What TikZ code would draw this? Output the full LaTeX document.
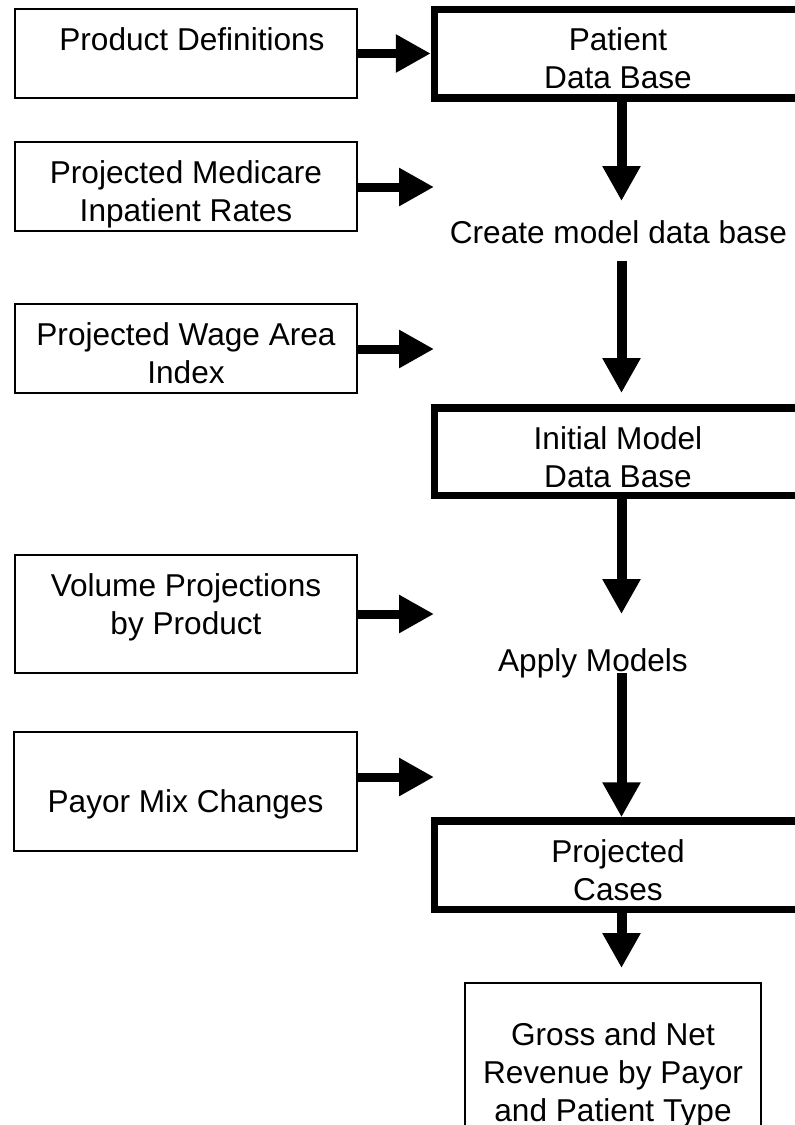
\documentclass[tikz,border=0pt]{standalone}
\usepackage{fontspec}
\setmainfont{Liberation Sans}
\usetikzlibrary{arrows.meta}
\begin{document}
\begin{tikzpicture}[x=1pt,y=-1pt,
  txt/.style={font=\fontsize{31.6}{38}\selectfont},
  inbox/.style={draw, line width=1.5pt, rectangle, inner sep=0pt, align=center, txt, anchor=base},
  keybox/.style={draw, line width=7.5pt, rectangle, inner sep=0pt, align=center, txt, anchor=base, minimum width=367pt},
  flow/.style={line width=10pt, -{Triangle[length=35pt,width=36pt]}},
  feed/.style={line width=9pt, -{Triangle[length=35pt,width=36pt]}}]
\useasboundingbox (0,0) rectangle (795,1125);
\clip (0,0) rectangle (795,1125);

% input boxes (left column); anchor=base is the baseline of the last line
\node[inbox, minimum width=342pt, text height=41pt, text depth=48pt] (pd) at (186,50) {\hspace*{12pt}Product Definitions};
\node[inbox, minimum width=342pt, text height=79pt, text depth=10pt] (med) at (186,221) {Projected Medicare\\Inpatient Rates};
\node[inbox, minimum width=342pt, text height=79pt, text depth=10pt] (wage) at (186,383) {Projected Wage Area\\Index};
\node[inbox, minimum width=342pt, text height=79pt, text depth=39pt] (vol) at (186,634) {Volume Projections\\by Product};
\node[inbox, minimum width=343pt, text height=80pt, text depth=39pt] (pay) at (185.5,812) {Payor Mix Changes};

% main column
\node[keybox, text height=78.5pt, text depth=10pt] (pdb) at (618,88) {Patient\\Data Base};
\node[txt, anchor=base] (create) at (618.5,243) {Create model data base};
\node[keybox, text height=79pt, text depth=8.5pt] (imdb) at (618,487) {Initial Model\\Data Base};
\node[txt, anchor=base] (apply) at (593,671) {Apply Models};
\node[keybox, text height=79.5pt, text depth=9pt] (proj) at (618,900.5) {Projected\\Cases};
\node[inbox, minimum width=296pt, text height=138pt, text depth=19pt] (gross) at (613,1121) {Gross and Net\\Revenue by Payor\\and Patient Type};

% free ends of connectors
\coordinate (t2) at (434,187);
\coordinate (t3) at (434,349);
\coordinate (t4) at (434,614);
\coordinate (t5) at (434,777);
\coordinate (v1) at (621.5,201);
\coordinate (s2) at (621.5,261);
\coordinate (v2) at (621.5,393);
\coordinate (v3) at (621.5,614);
\coordinate (s4) at (621.5,673);
\coordinate (v5) at (621.5,968);

% horizontal feeds
\draw[feed] (pd.east) -- (pd.east -| pdb.west);
\draw[feed] (med.east |- t2) -- (t2);
\draw[feed] (wage.east |- t3) -- (t3);
\draw[feed] (vol.east |- t4) -- (t4);
\draw[feed] (pay.east |- t5) -- (t5);

% vertical flow
\draw[flow] (pdb.south -| v1) -- (v1);
\draw[flow] (s2) -- (v2);
\draw[flow] (imdb.south -| v3) -- (v3);
\draw[flow] (s4) -- (proj.north -| s4);
\draw[flow] (proj.south -| v5) -- (v5);
\end{tikzpicture}
\end{document}
